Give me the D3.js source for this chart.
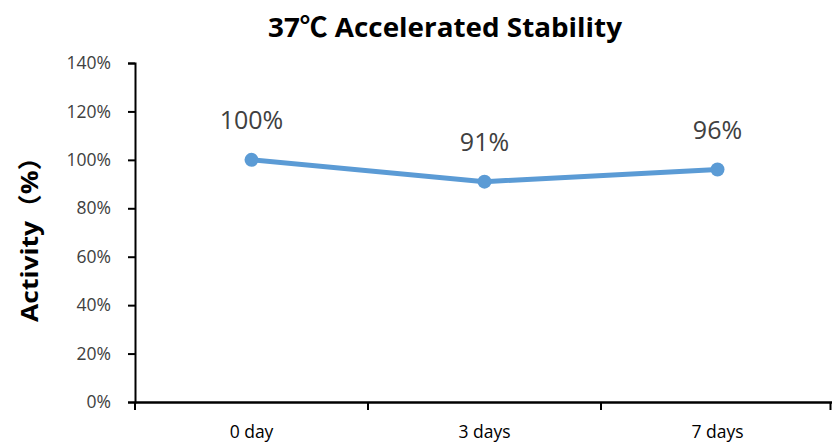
<!DOCTYPE html>
<html>
<head>
<meta charset="utf-8">
<script src="https://cdn.jsdelivr.net/npm/d3@7"></script>
<style>
	body { margin: 0; background: #fff; }
	text { font-family: "Open Sans", "Noto Sans CJK SC", sans-serif; }
</style>
</head>
<body>
<div id="chart"></div>
<script>
// values
var categories = ['0 day', '3 days', '7 days'];
var activity = [1.00, 0.91, 0.96];
var dataLabels = ['100%', '91%', '96%'];
var yTicks = [0, 0.2, 0.4, 0.6, 0.8, 1.0, 1.2, 1.4];
var titleText = '37\u2103 Accelerated Stability';
var yTitle = 'Activity\uff08%\uff09';

var window_width = 832;
var window_height = 447;
var margin = {left: 135, right: 0, top: 63, bottom: 45};

var svg = d3.select('#chart')
	.append('svg')
	.attr('width', window_width)
	.attr('height', window_height);

// Create the scales
var x = d3.scaleBand()
	.domain(categories)
	.range([margin.left, window_width - margin.right + 2]);

var y = d3.scaleLinear()
	.domain([0, 1.4])
	.range([window_height - margin.bottom, margin.top]);

// y axis
var yAxis = svg.append('g')
	.attr('transform', 'translate(' + margin.left + ',0)')
	.call(d3.axisLeft(y).tickValues(yTicks).tickFormat(d3.format('.0%')).tickSizeOuter(0).tickSize(7).tickPadding(17));
yAxis.select('.domain').attr('stroke', '#000').attr('stroke-width', 2);
yAxis.selectAll('.tick line').attr('stroke', '#000').attr('stroke-width', 2);
yAxis.selectAll('.tick text')
	.attr('fill', '#404040')
	.style('font-size', '17.5px');

// x axis, ticks sit on the band edges like excel
var xAxis = svg.append('g')
	.attr('transform', 'translate(0,' + y(0) + ')')
	.call(d3.axisBottom(x).tickSize(0).tickPadding(24));
xAxis.select('.domain').attr('stroke', '#000').attr('stroke-width', 2.5);
xAxis.selectAll('.tick text')
	.attr('fill', '#000')
	.style('font-size', '17.5px');

var edges = categories.map(function(c){ return x(c); }).concat([x(categories[categories.length-1]) + x.bandwidth()]);
xAxis.selectAll('.edge')
	.data(edges)
	.enter()
	.append('line')
	.attr('x1', function(d){ return Math.min(d, window_width - 1.5); })
	.attr('x2', function(d){ return Math.min(d, window_width - 1.5); })
	.attr('y1', 0)
	.attr('y2', 8)
	.attr('stroke', '#000')
	.attr('stroke-width', 2);

// the line
var cx = function(d, i){ return x(categories[i]) + x.bandwidth()/2; };

var line = d3.line()
	.x(function(d, i){ return cx(d, i); })
	.y(function(d){ return y(d); });

svg.append('path')
	.datum(activity)
	.attr('d', line)
	.attr('fill', 'none')
	.attr('stroke', '#5b9bd5')
	.attr('stroke-width', 5);

svg.selectAll('.dot')
	.data(activity)
	.enter()
	.append('circle')
	.attr('cx', cx)
	.attr('cy', function(d){ return y(d); })
	.attr('r', 7)
	.attr('fill', '#5b9bd5');

svg.selectAll('.lbl')
	.data(activity)
	.enter()
	.append('text')
	.attr('x', cx)
	.attr('y', function(d){ return y(d) - 31; })
	.attr('text-anchor', 'middle')
	.attr('fill', '#404040')
	.style('font-size', '25px')
	.text(function(d, i){ return dataLabels[i]; });

// titles
svg.append('text')
	.attr('x', 445)
	.attr('y', 37)
	.attr('text-anchor', 'middle')
	.attr('textLength', 354)
	.attr('lengthAdjust', 'spacingAndGlyphs')
	.style('font-size', '27px')
	.style('font-weight', 'bold')
	.attr('fill', '#000')
	.text(titleText);

// full width brackets leave a blank at the end, so the centre sits a bit higher
svg.append('text')
	.attr('transform', 'translate(38,233) rotate(-90)')
	.attr('text-anchor', 'middle')
	.attr('textLength', 178)
	.attr('lengthAdjust', 'spacingAndGlyphs')
	.style('font-size', '24px')
	.style('font-weight', 'bold')
	.attr('fill', '#000')
	.text(yTitle);
</script>
</body>
</html>
